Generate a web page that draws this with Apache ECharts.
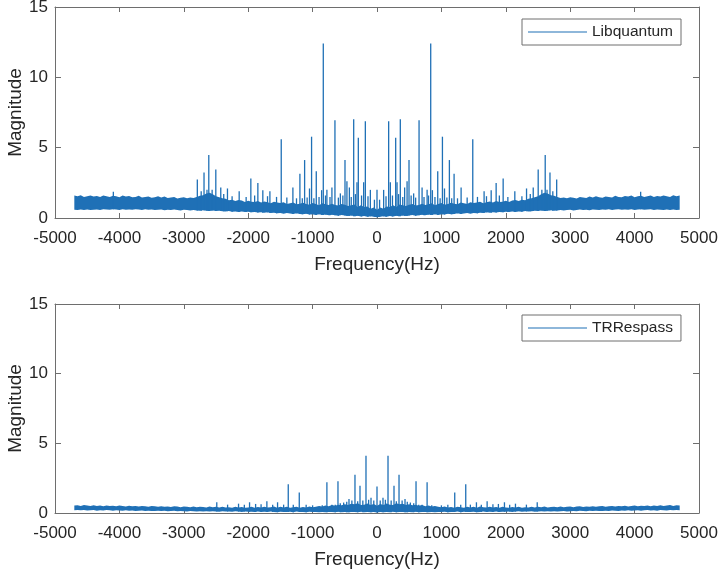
<!DOCTYPE html>
<html>
<head>
<meta charset="utf-8">
<script src="https://cdn.jsdelivr.net/npm/echarts@6/dist/echarts.min.js"></script>
<style>
  html, body { margin: 0; padding: 0; background: #fff; }
  #chart { width: 720px; height: 572px; }
</style>
</head>
<body>
<div id="chart"></div>
<script>
// Axis ticks
const freqTicks = [-5000, -4000, -3000, -2000, -1000, 0, 1000, 2000, 3000, 4000, 5000];
const magTicks = [0, 5, 10, 15];

// Noise floor (upper / lower envelope) of the one-sided spectrum, every 50 Hz from 0 to 4700 Hz
const bandStep = 50;
const libHi = [
  0.58, 0.74, 0.66, 0.82, 0.79, 0.90, 0.78, 0.96, 0.90, 0.85,
  0.95, 1.00, 0.88, 0.93, 1.02, 0.92, 0.97, 1.04, 0.90, 1.00,
  1.06, 0.94, 1.00, 1.08, 1.02, 0.98, 1.10, 1.04, 1.00, 1.12,
  1.06, 1.10, 1.16, 1.05, 1.12, 1.18, 1.10, 1.20, 1.14, 1.16,
  1.22, 1.14, 1.24, 1.28, 1.20, 1.30, 1.26, 1.36, 1.40, 1.48,
  1.55, 1.68, 1.80, 1.75, 1.62, 1.58, 1.50, 1.42, 1.46, 1.40,
  1.48, 1.44, 1.38, 1.50, 1.46, 1.42, 1.52, 1.45, 1.55, 1.48,
  1.44, 1.53, 1.50, 1.46, 1.58, 1.50, 1.47, 1.56, 1.52, 1.60,
  1.48, 1.55, 1.58, 1.50, 1.54, 1.60, 1.49, 1.57, 1.52, 1.60,
  1.55, 1.50, 1.62, 1.55, 1.60
];
const libLo = [
  0.05, 0.09, 0.12, 0.08, 0.14, 0.11, 0.16, 0.13, 0.18, 0.15,
  0.17, 0.21, 0.16, 0.20, 0.23, 0.19, 0.24, 0.22, 0.26, 0.21,
  0.27, 0.25, 0.30, 0.27, 0.29, 0.33, 0.28, 0.32, 0.35, 0.31,
  0.36, 0.33, 0.38, 0.35, 0.40, 0.37, 0.41, 0.39, 0.43, 0.40,
  0.44, 0.42, 0.46, 0.43, 0.47, 0.45, 0.49, 0.46, 0.48, 0.51,
  0.49, 0.53, 0.50, 0.52, 0.55, 0.51, 0.54, 0.57, 0.53, 0.56,
  0.58, 0.54, 0.57, 0.60, 0.56, 0.59, 0.55, 0.61, 0.58, 0.57,
  0.61, 0.58, 0.62, 0.57, 0.60, 0.63, 0.58, 0.61, 0.59, 0.62,
  0.57, 0.61, 0.63, 0.58, 0.60, 0.62, 0.57, 0.61, 0.59, 0.56,
  0.60, 0.57, 0.61, 0.56, 0.58
];
const trrHi = [
  0.52, 0.64, 0.57, 0.68, 0.60, 0.58, 0.70, 0.62, 0.66, 0.58,
  0.63, 0.55, 0.60, 0.52, 0.57, 0.49, 0.53, 0.46, 0.50, 0.44,
  0.41, 0.46, 0.40, 0.43, 0.38, 0.44, 0.41, 0.37, 0.45, 0.40,
  0.44, 0.38, 0.46, 0.41, 0.39, 0.45, 0.40, 0.43, 0.38, 0.44,
  0.40, 0.37, 0.43, 0.39, 0.44, 0.38, 0.42, 0.40, 0.45, 0.39,
  0.44, 0.41, 0.46, 0.40, 0.43, 0.45, 0.41, 0.46, 0.42, 0.44,
  0.47, 0.42, 0.46, 0.48, 0.43, 0.47, 0.45, 0.49, 0.44, 0.48,
  0.50, 0.45, 0.49, 0.51, 0.46, 0.50, 0.48, 0.52, 0.47, 0.51,
  0.53, 0.48, 0.52, 0.50, 0.54, 0.49, 0.53, 0.51, 0.55, 0.50,
  0.54, 0.57, 0.51, 0.55, 0.53
];
const trrLo = [
  0.04, 0.07, 0.05, 0.08, 0.06, 0.09, 0.05, 0.08, 0.07, 0.05,
  0.08, 0.06, 0.09, 0.05, 0.07, 0.08, 0.05, 0.07, 0.06, 0.08,
  0.07, 0.09, 0.06, 0.08, 0.07, 0.10, 0.06, 0.09, 0.08, 0.07,
  0.09, 0.06, 0.08, 0.10, 0.07, 0.09, 0.08, 0.10, 0.07, 0.09,
  0.09, 0.11, 0.08, 0.10, 0.12, 0.09, 0.11, 0.10, 0.12, 0.09,
  0.11, 0.13, 0.10, 0.12, 0.11, 0.13, 0.10, 0.12, 0.14, 0.11,
  0.13, 0.15, 0.12, 0.16, 0.14, 0.13, 0.16, 0.14, 0.17, 0.15,
  0.14, 0.17, 0.15, 0.18, 0.16, 0.15, 0.18, 0.16, 0.19, 0.17,
  0.18, 0.20, 0.17, 0.19, 0.21, 0.18, 0.20, 0.17, 0.21, 0.19,
  0.18, 0.21, 0.19, 0.22, 0.20
];

// Spectral lines [frequency (Hz), magnitude], positive half
const libPeaks = [
  [0, 2.0], [40, 1.3], [103, 2.0], [140, 1.55], [181, 6.88], [207, 2.55], [240, 1.6],
  [290, 5.71], [311, 2.55], [335, 1.7], [362, 7.02], [400, 1.5], [429, 2.17], [467, 2.62],
  [497, 4.12], [530, 1.6], [569, 1.75], [600, 1.45], [653, 6.95], [700, 2.17], [730, 1.5],
  [778, 2.0], [800, 1.6], [834, 12.4], [860, 1.98], [900, 1.5], [943, 3.33], [980, 1.4],
  [1016, 5.78], [1048, 2.1], [1085, 1.45], [1124, 4.12], [1160, 1.4], [1197, 3.14],
  [1250, 1.4], [1306, 2.17], [1400, 1.45], [1487, 5.59], [1560, 1.5], [1663, 1.9],
  [1700, 1.55], [1773, 1.98], [1850, 2.48], [1900, 1.6], [1959, 2.81], [2032, 1.5],
  [2140, 1.9], [2250, 1.55], [2322, 2.1], [2380, 1.7], [2426, 2.17], [2503, 3.45],
  [2560, 2.0], [2612, 4.47], [2640, 2.0], [2686, 3.24], [2730, 1.9], [2790, 2.74],
  [4094, 1.86]
];
const trrPeaks = [
  [0, 1.91], [50, 0.9], [93, 1.1], [130, 0.95], [171, 4.11], [220, 0.9], [264, 1.96],
  [300, 0.85], [342, 2.75], [390, 0.9], [435, 1.0], [470, 0.8], [518, 0.75], [570, 0.7],
  [606, 2.27], [648, 0.6], [700, 0.6], [778, 2.2], [850, 0.55], [1000, 0.55], [1100, 0.6],
  [1207, 1.48], [1300, 0.6], [1378, 2.06], [1450, 0.6], [1544, 0.77], [1620, 0.6],
  [1710, 0.84], [1800, 0.62], [1885, 0.65], [1979, 0.77], [2060, 0.6], [2150, 0.67],
  [2320, 0.6], [2488, 0.77]
];

const BLUE = '#1f70b6';
const AXIS = '#6e6e6e';
const TEXT = '#262626';
const FONT = '"Liberation Sans", Arial, Helvetica, sans-serif';

// The magnitude spectrum of a real signal is even: mirror the positive half.
function twoSidedBand(values) {
  const pos = values.map((v, i) => [i * bandStep, v]);
  const neg = pos.slice(1).reverse().map(([f, v]) => [-f, v]);
  return neg.concat(pos);
}
function twoSidedPeaks(peaks, lo) {
  // each line rises from the noise floor sample nearest to it
  const withBase = peaks.map(([f, m]) => [f, m, lo[Math.min(lo.length - 1, Math.round(f / bandStep))]]);
  const neg = withBase.filter(p => p[0] > 0).map(([f, m, b]) => [-f, m, b]).reverse();
  return neg.concat(withBase);
}

function bandSeries(name, hiVals, loVals, idx) {
  const hi = twoSidedBand(hiVals);
  const lo = twoSidedBand(loVals);
  return {
    type: 'custom', name, xAxisIndex: idx * 2, yAxisIndex: idx * 2,
    itemStyle: { color: BLUE }, silent: true, clip: true, z: 2,
    data: [[0, 0]],
    renderItem: (params, api) => {
      const top = hi.map(p => api.coord(p));
      const bot = lo.map(p => api.coord(p)).reverse();
      return { type: 'polygon', shape: { points: top.concat(bot) }, style: { fill: BLUE } };
    }
  };
}
function peakSeries(name, peaks, loVals, idx) {
  return {
    type: 'custom', name, xAxisIndex: idx * 2, yAxisIndex: idx * 2,
    itemStyle: { color: BLUE }, silent: true, clip: true, z: 3,
    dimensions: ['f', 'm', 'base'],
    encode: { x: 0, y: 1 },
    data: twoSidedPeaks(peaks, loVals),
    renderItem: (params, api) => {
      const f = api.value(0), m = api.value(1), b = api.value(2);
      const a = api.coord([f, b]), t = api.coord([f, m]);
      return { type: 'line', shape: { x1: a[0], y1: a[1], x2: t[0], y2: t[1] },
               style: { stroke: BLUE, lineWidth: 1.3 } };
    }
  };
}

const grids = [
  { left: 55, top: 7, width: 644, height: 211, outerBoundsMode: 'none', containLabel: false },
  { left: 55, top: 304, width: 644, height: 209, outerBoundsMode: 'none', containLabel: false }
];

const plain = v => String(v);

function xAxes(gi) {
  const base = {
    type: 'value', gridIndex: gi,
    min: freqTicks[0], max: freqTicks[freqTicks.length - 1], interval: freqTicks[1] - freqTicks[0],
    splitLine: { show: false },
    axisLine: { show: true, onZero: false, lineStyle: { color: AXIS, width: 1 } },
    axisTick: { show: true, inside: true, length: 5, lineStyle: { color: AXIS } }
  };
  return [
    Object.assign({}, base, {
      position: 'bottom',
      axisLabel: { show: true, color: TEXT, fontSize: 17, fontFamily: FONT, margin: 12, formatter: plain },
      name: 'Frequency(Hz)', nameLocation: 'middle', nameGap: 37,
      nameTextStyle: { color: TEXT, fontSize: 19, fontFamily: FONT }
    }),
    Object.assign({}, base, { position: 'top', axisLabel: { show: false } })
  ];
}
function yAxes(gi) {
  const base = {
    type: 'value', gridIndex: gi,
    min: magTicks[0], max: magTicks[magTicks.length - 1], interval: magTicks[1] - magTicks[0],
    splitLine: { show: false },
    axisLine: { show: true, onZero: false, lineStyle: { color: AXIS, width: 1 } },
    axisTick: { show: true, inside: true, length: 6, lineStyle: { color: AXIS } }
  };
  return [
    Object.assign({}, base, {
      position: 'left',
      axisLabel: { show: true, color: TEXT, fontSize: 17, fontFamily: FONT, margin: 7, formatter: plain },
      name: 'Magnitude', nameLocation: 'middle', nameGap: 30, nameMoveOverlap: false,
      nameTextStyle: { color: TEXT, fontSize: 19, fontFamily: FONT }
    }),
    Object.assign({}, base, { position: 'right', axisLabel: { show: false } })
  ];
}

function legendAt(name, top) {
  return {
    data: [name], left: 522, top,
    icon: 'rect', itemWidth: 59, itemHeight: 1.2, itemGap: 0,
    padding: [5, 8, 5, 6],
    borderColor: AXIS, borderWidth: 1, backgroundColor: '#fff',
    textStyle: { color: TEXT, fontSize: 15.5, fontFamily: FONT },
    selectedMode: false
  };
}

const chart = echarts.init(document.getElementById('chart'), null, { renderer: 'canvas' });
chart.setOption({
  animation: false,
  backgroundColor: '#fff',
  color: [BLUE],
  grid: grids,
  xAxis: xAxes(0).concat(xAxes(1)),
  yAxis: yAxes(0).concat(yAxes(1)),
  legend: [legendAt('Libquantum', 19), legendAt('TRRespass', 315)],
  series: [
    bandSeries('Libquantum', libHi, libLo, 0),
    peakSeries('Libquantum', libPeaks, libLo, 0),
    bandSeries('TRRespass', trrHi, trrLo, 1),
    peakSeries('TRRespass', trrPeaks, trrLo, 1)
  ]
});
</script>
</body>
</html>
